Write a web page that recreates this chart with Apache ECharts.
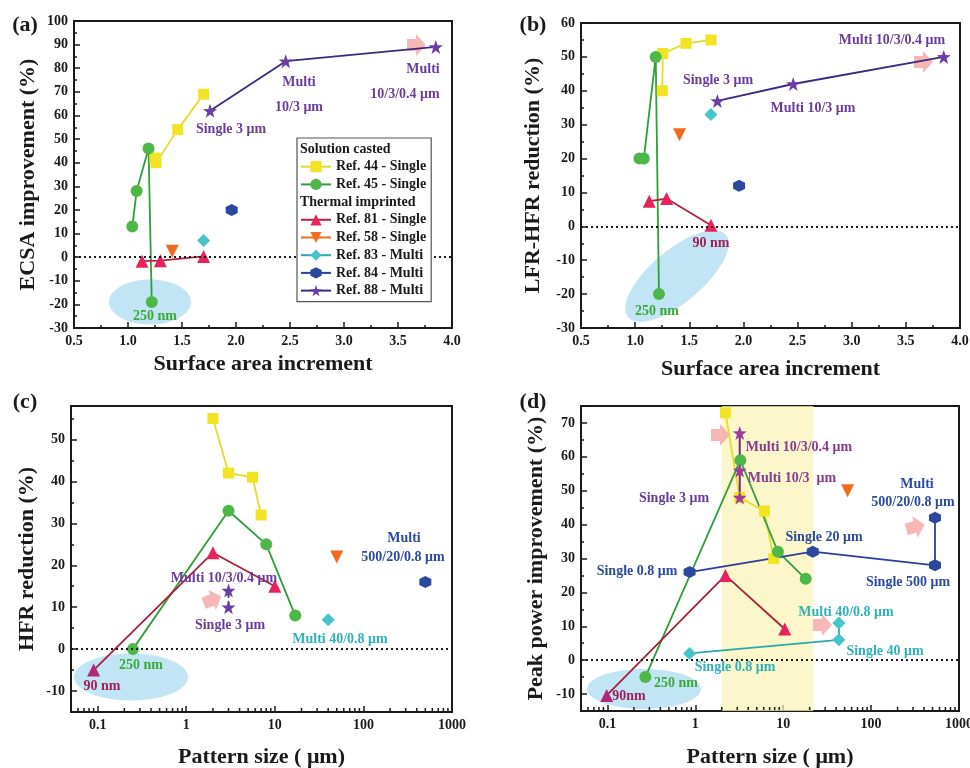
<!DOCTYPE html>
<html>
<head>
<meta charset="utf-8">
<script src="https://cdn.jsdelivr.net/npm/echarts@6/dist/echarts.min.js"></script>
<style>
  html, body { margin: 0; padding: 0; background: #fff; }
  #chart { width: 970px; height: 768px; }
</style>
</head>
<body>
<div id="chart"></div>
<script>
// ---- data ----
// panel (a): ECSA improvement vs surface area increment
const a44 = [[1.25, 42], [1.26, 40], [1.46, 54], [1.7, 69]];
const a45 = [[1.04, 13], [1.08, 28], [1.19, 46], [1.22, -19]];
const a81 = [[1.13, -1.7], [1.3, -1.5], [1.7, 0.3]];
const a58 = [[1.41, 2.5]];
const a83 = [[1.7, 7]];
const a84 = [[1.96, 20]];
const a88 = [[1.76, 62], [2.46, 83], [3.85, 89]];

// panel (b): LFR-HFR reduction vs surface area increment
const b44 = [[1.25, 40], [1.255, 51], [1.47, 54], [1.7, 55]];
const b45 = [[1.04, 20], [1.08, 20], [1.19, 50], [1.22, -20]];
const b81 = [[1.13, 7.4], [1.29, 8.2], [1.7, 0.3]];
const b58 = [[1.41, 27]];
const b83 = [[1.7, 33]];
const b84 = [[1.96, 12]];
const b88 = [[1.76, 37], [2.46, 42], [3.85, 50]];

// panel (c): HFR reduction vs pattern size
const c44 = [[2, 55], [3, 42], [5.6, 41], [7, 32]];
const c45 = [[0.25, 0], [3, 33], [8, 25], [17, 8]];
const c81 = [[0.09, -5], [2, 23], [10, 15]];
const c58 = [[50, 22]];
const c83 = [[40, 7]];
const c84 = [[500, 16]];
const c88 = [[3, 14], [3, 10]];

// panel (d): peak power improvement vs pattern size
const d44 = [[2.2, 73], [3.2, 48], [6.1, 44], [7.8, 30]];
const d45 = [[0.27, -5], [3.25, 59], [8.7, 32], [18, 24]];
const d81 = [[0.098, -10.4], [2.2, 25], [10.4, 9.2]];
const d58 = [[54, 50]];
const d83 = [[0.86, 2], [43, 6], [43, 11]];
const d84 = [[0.86, 26], [21.7, 32], [533, 28], [533, 42]];
const d88 = [[3.2, 67], [3.2, 56], [3.2, 48]];
const dBand = [2, 22];

const names = ['Ref. 44 - Single', 'Ref. 45 - Single', 'Ref. 81 - Single', 'Ref. 58 - Single',
  'Ref. 83 - Multi', 'Ref. 84 - Multi', 'Ref. 88 - Multi'];
const headers = ['Solution casted', 'Thermal imprinted'];

// minor ticks of the log axes (2..9 in each decade)
const logMinor = [];
[0.01, 0.1, 1, 10, 100].forEach(d => {
  for (let k = 2; k <= 9; k++) {
    if (d * k >= 0.05) logMinor.push(+(d * k).toPrecision(2));
  }
});

const FONT = 'Liberation Serif';
const INK = '#1a1a1a';
const PURPLE = '#6b3d9a';
const MAGENTA = '#8b3a8e';
const BLUE = '#2e4aa0';
const CYAN = '#2fb2b8';
const GREEN = '#3aaa3a';
const DARKRED = '#a0205a';

const HEX = 'path://M0,-10 L8.66,-5 L8.66,5 L0,10 L-8.66,5 L-8.66,-5 Z';
const STAR = 'path://M0,-10 L2.35,-3.24 L9.51,-3.09 L3.8,1.24 L5.88,8.09 L0,4 L-5.88,8.09 L-3.8,1.24 L-9.51,-3.09 L-2.35,-3.24 Z';

// look of each reference, same order as names
const looks = [
  { symbol: 'rect', size: 11, fill: '#f2e422', line: '#e6da2a' },
  { symbol: 'circle', size: 12, fill: '#4db848', line: '#2f9f3a' },
  { symbol: 'triangle', size: 13, fill: '#e8235b', line: '#b5223f' },
  { symbol: 'triangle', size: 13, fill: '#f26a1b', line: '#f26a1b', rotate: 180 },
  { symbol: 'diamond', size: 13, fill: '#45c4c9', line: '#2aa8b0' },
  { symbol: HEX, size: 12, fill: '#2c479e', line: '#2c3f9a' },
  { symbol: STAR, size: 14, fill: '#6a3ea5', line: '#3b2a80' }
];

const grids = [
  { left: 74, top: 21, width: 378, height: 307 },
  { left: 581, top: 23, width: 379, height: 305 },
  { left: 71, top: 406, width: 381, height: 306 },
  { left: 581, top: 406, width: 378, height: 305 }
];

const tickLabel = { color: INK, fontFamily: FONT, fontWeight: 'bold', fontSize: 14, margin: 6 };
const nameStyle = { color: INK, fontFamily: FONT, fontWeight: 'bold', fontSize: 22 };
const axisLine = { show: true, onZero: false, lineStyle: { color: INK, width: 2 } };
const axisTick = { show: true, inside: true, length: 6, lineStyle: { color: INK, width: 1.5 } };
const minorTick = { show: true, splitNumber: 2, length: 3, lineStyle: { color: INK, width: 1.5 } };

function linearX(i, name, gap) {
  return {
    type: 'value', gridIndex: i, min: 0.5, max: 4, interval: 0.5,
    name: name, nameLocation: 'middle', nameGap: gap, nameTextStyle: nameStyle,
    axisLine: axisLine, axisTick: axisTick, minorTick: minorTick,
    axisLabel: Object.assign({}, tickLabel, { formatter: v => v.toFixed(1) }),
    splitLine: { show: false }
  };
}

function logX(i, name, gap) {
  return {
    type: 'log', logBase: 10, gridIndex: i, min: 0.05, max: 1000,
    name: name, nameLocation: 'middle', nameGap: gap, nameTextStyle: nameStyle,
    axisLine: axisLine, axisTick: axisTick,
    axisLabel: Object.assign({}, tickLabel, { showMinLabel: false, formatter: v => String(+v.toPrecision(3)) }),
    splitLine: { show: false }
  };
}

function valueY(i, min, max, extra, name, gap) {
  return Object.assign({
    type: 'value', gridIndex: i, min: min, max: max,
    name: name, nameLocation: 'middle', nameGap: gap, nameTextStyle: nameStyle,
    axisLine: axisLine, axisTick: axisTick, minorTick: minorTick,
    axisLabel: tickLabel,
    splitLine: { show: false }
  }, extra);
}

const zeroLine = {
  silent: true, symbol: ['none', 'none'], label: { show: false },
  lineStyle: { type: [2, 3], color: INK, width: 2 },
  data: [{ yAxis: 0 }]
};

function refSeries(panel, data, k, over) {
  const lk = looks[k];
  return Object.assign({
    name: names[k], type: 'line', xAxisIndex: panel, yAxisIndex: panel,
    data: data, symbol: lk.symbol, symbolSize: lk.size, symbolRotate: lk.rotate || 0,
    itemStyle: { color: lk.fill },
    lineStyle: { color: lk.line, width: 1.8 },
    z: 3
  }, over || {});
}

function minorTickSeries(panel) {
  return {
    type: 'custom', xAxisIndex: panel, yAxisIndex: panel, silent: true, clip: false, z: 4,
    data: logMinor.map(v => [v, 0]),
    renderItem: (params, api) => {
      const cs = params.coordSys;
      const x = api.coord([api.value(0), 0])[0];
      const b = cs.y + cs.height;
      return { type: 'line', shape: { x1: x, y1: b - 1, x2: x, y2: b - 4 }, style: { stroke: INK, lineWidth: 1.5 } };
    }
  };
}

const panelData = [
  [a44, a45, a81, a58, a83, a84, a88],
  [b44, b45, b81, b58, b83, b84, b88],
  [c44, c45, c81, c58, c83, c84, c88],
  [d44, d45, d81, d58, d83, d84, d88]
];

const series = [];
panelData.forEach((set, p) => {
  set.forEach((data, k) => {
    const over = {};
    if (k === 0) over.markLine = zeroLine;
    if (p === 2 && k === 6) over.lineStyle = { color: '#3b2a80', width: 1.8, type: 'dashed' };
    if (p === 3 && k === 6) {
      over.itemStyle = { color: '#9b3d9e' };
      over.lineStyle = { color: '#7a2a7a', width: 2 };
    }
    if (p >= 2 && k === 2) {
      over.data = data.map((pt, j) => j === 0 ? { value: pt, itemStyle: { color: '#b0287a' } } : pt);
      over.lineStyle = { color: '#a8203c', width: 1.8 };
    }
    series.push(refSeries(p, data, k, over));
  });
});

// legend header rows (text only)
headers.forEach(h => series.push({
  name: h, type: 'line', xAxisIndex: 0, yAxisIndex: 0, data: [], symbol: 'none',
  itemStyle: { color: 'rgba(0,0,0,0)' }, lineStyle: { color: 'rgba(0,0,0,0)' }
}));

// pale band of panel (d)
series.push({
  type: 'line', xAxisIndex: 3, yAxisIndex: 3, data: [], silent: true, z: 1,
  markArea: {
    silent: true,
    itemStyle: { color: 'rgba(250,244,185,0.75)' },
    data: [[{ xAxis: dBand[0] }, { xAxis: dBand[1] }]]
  }
});
series.push(minorTickSeries(2), minorTickSeries(3));

// annotations: text, x, y, colour
const notes = [
  ['Multi', 299, 82, PURPLE], ['10/3 μm', 299, 107, PURPLE], ['Single 3 μm', 231, 129, PURPLE],
  ['Multi', 423, 69, PURPLE], ['10/3/0.4 μm', 405, 94, PURPLE], ['250 nm', 155, 316, GREEN],

  ['Multi 10/3/0.4 μm', 892, 40, PURPLE], ['Single 3 μm', 718, 80, PURPLE], ['Multi 10/3 μm', 813, 108, PURPLE],
  ['90 nm', 711, 243, DARKRED], ['250 nm', 657, 311, GREEN],

  ['Multi', 404, 538, BLUE], ['500/20/0.8 μm', 403, 557, BLUE], ['Multi 10/3/0.4 μm', 224, 578, PURPLE],
  ['Single 3 μm', 230, 625, PURPLE], ['Multi 40/0.8 μm', 340, 639, CYAN], ['250 nm', 141, 665, GREEN],
  ['90 nm', 102, 686, DARKRED],

  ['Multi 10/3/0.4 μm', 799, 447, MAGENTA], ['Multi 10/3  μm', 792, 478, MAGENTA], ['Single 3 μm', 674, 498, PURPLE],
  ['Multi', 917, 484, BLUE], ['500/20/0.8 μm', 913, 502, BLUE], ['Single 20 μm', 824, 537, BLUE],
  ['Single 0.8 μm', 637, 571, BLUE], ['Single 500 μm', 908, 582, BLUE], ['Multi 40/0.8 μm', 846, 612, CYAN],
  ['Single 40 μm', 885, 651, CYAN], ['Single 0.8 μm', 735, 667, CYAN], ['250 nm', 676, 683, GREEN],
  ['90nm', 629, 696, DARKRED]
];

const panelTags = [['(a)', 25, 25], ['(b)', 533, 25], ['(c)', 25, 402], ['(d)', 533, 402]];

// highlighted regions and arrows
const ellipses = [
  { x: 150, y: 302, rx: 41, ry: 22.5, rot: 0 },
  { x: 677, y: 276, rx: 64, ry: 26, rot: 0.7 },
  { x: 131, y: 677, rx: 57, ry: 23.5, rot: 0 },
  { x: 644, y: 689, rx: 57, ry: 20, rot: 0 }
];
const arrows = [
  { x: 416, y: 45, rot: 0 }, { x: 923, y: 62, rot: 0 }, { x: 212, y: 600, rot: 0.35 },
  { x: 720, y: 435, rot: 0 }, { x: 915, y: 527, rot: 0.25 }, { x: 822, y: 625, rot: 0 }
];

const graphic = [];
ellipses.forEach(e => graphic.push({
  type: 'ellipse', x: e.x, y: e.y, rotation: e.rot, z: 1, silent: true,
  shape: { cx: 0, cy: 0, rx: e.rx, ry: e.ry },
  style: { fill: 'rgba(178,222,242,0.8)' }
}));
arrows.forEach(a => graphic.push({
  type: 'polygon', x: a.x, y: a.y, rotation: a.rot, z: 2, silent: true,
  shape: { points: [[-9, -6], [0, -6], [0, -11], [10, 0], [0, 11], [0, 6], [-9, 6]] },
  style: { fill: 'rgba(245,165,165,0.8)' }
}));
notes.forEach(n => graphic.push({
  type: 'text', x: n[1], y: n[2], z: 10, silent: true,
  style: { text: n[0], fill: n[3], font: 'bold 14px "' + FONT + '"', align: 'center', verticalAlign: 'middle' }
}));
panelTags.forEach(t => graphic.push({
  type: 'text', x: t[1], y: t[2], z: 10, silent: true,
  style: { text: t[0], fill: INK, font: 'bold 22px "' + FONT + '"', align: 'center', verticalAlign: 'middle' }
}));

const legendData = [headers[0], names[0], names[1], headers[1], names[2], names[3], names[4], names[5], names[6]]
  .map(n => headers.includes(n)
    ? { name: n, icon: 'none', textStyle: { padding: [0, 0, 0, -36] } }
    : { name: n });

const chart = echarts.init(document.getElementById('chart'), null, { renderer: 'canvas' });
chart.setOption({
  animation: false,
  backgroundColor: '#fff',
  grid: grids.map(g => Object.assign({ show: true, borderColor: INK, borderWidth: 2, backgroundColor: 'transparent', outerBoundsMode: 'none' }, g)),
  xAxis: [
    linearX(0, 'Surface area increment', 25),
    linearX(1, 'Surface area increment', 30),
    logX(2, 'Pattern size ( μm)', 34),
    logX(3, 'Pattern size ( μm)', 35)
  ],
  yAxis: [
    valueY(0, -30, 100, { interval: 10 }, 'ECSA improvement (%)', 35),
    valueY(1, -30, 60, { interval: 10 }, 'LFR-HFR reduction (%)', 37),
    valueY(2, -15, 58, { splitNumber: 7, axisLabel: Object.assign({}, tickLabel, { showMinLabel: false, showMaxLabel: false }) }, 'HFR reduction (%)', 33),
    valueY(3, -15, 75, { splitNumber: 9, axisLabel: Object.assign({}, tickLabel, { showMinLabel: false, showMaxLabel: false }) }, 'Peak power improvement (%)', 34)
  ],
  legend: {
    orient: 'vertical', left: 297, top: 138, selectedMode: false, z: 20,
    padding: [4, 5, 4, 3], itemWidth: 30, itemHeight: 14, itemGap: 3.7,
    backgroundColor: '#fff', borderColor: '#555', borderWidth: 1.2,
    textStyle: { color: INK, fontFamily: FONT, fontWeight: 'bold', fontSize: 14 },
    data: legendData
  },
  series: series,
  graphic: graphic
});
</script>
</body>
</html>
